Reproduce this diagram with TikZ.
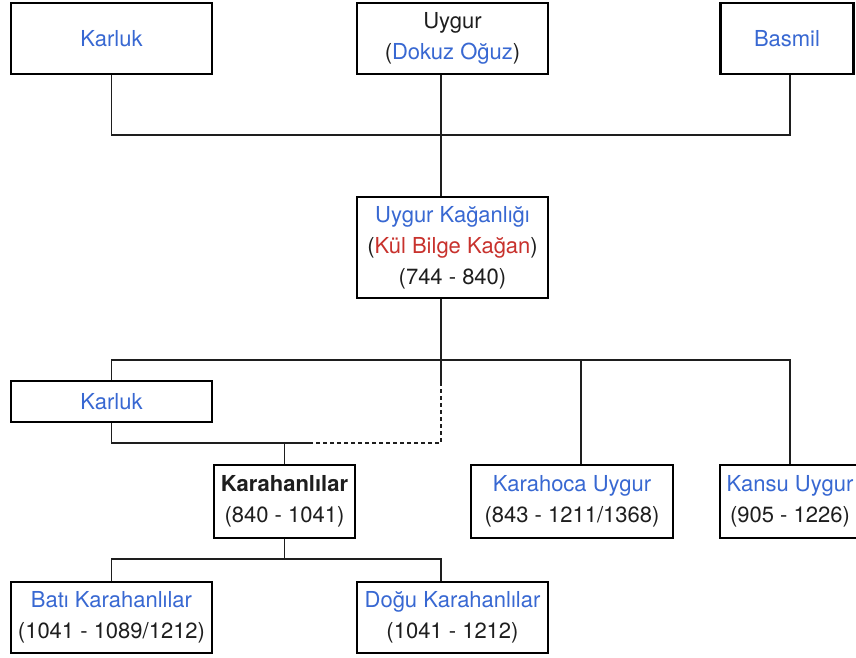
\documentclass[tikz,border=0pt]{standalone}
\usepackage{fontspec}
\setmainfont{TeX Gyre Heros}
\usepackage{xcolor}
\definecolor{linkblue}{RGB}{56,104,210}
\definecolor{namered}{RGB}{200,50,45}
\definecolor{ink}{RGB}{30,30,30}
\newcommand{\lnk}[1]{\textcolor{linkblue}{#1}}

\begin{document}
\begin{tikzpicture}[x=1pt,y=-1pt,
    tribe/.style={draw=black, line width=2.6pt, fill=white, inner sep=0pt, align=center,
      text=ink, font=\fontsize{22}{31}\selectfont},
    tie/.style={draw=ink, line width=1.2pt}]
  \useasboundingbox (0,0) rectangle (856,657);
  % top row
  \node[tribe, minimum width=201pt, minimum height=71pt] (karluk) at (111.5,38.5) {\lnk{Karluk}};
  \node[tribe, minimum width=191pt, minimum height=71pt] (uygur) at (452.5,38.5) {Uygur\\(\lnk{Dokuz Oğuz})};
  \node[tribe, minimum width=133pt, minimum height=71pt] (basmil) at (787,38.5) {\lnk{Basmil}};
  % khaganate
  \node[tribe, minimum width=191pt, minimum height=101pt] (kagan) at (452.5,247.5)
    {\lnk{Uygur Kağanlığı}\\(\textcolor{namered}{Kül Bilge Kağan})\\(744 - 840)};
  % successors
  \node[tribe, minimum width=201pt, minimum height=41pt] (karluk2) at (111.5,401.5) {\lnk{Karluk}};
  \node[tribe, minimum width=141pt, minimum height=73pt] (karahan) at (284.5,501.5) {\textbf{Karahanlılar}\\(840 - 1041)};
  \node[tribe, minimum width=202pt, minimum height=73pt] (karahoca) at (572,501.5) {\lnk{Karahoca Uygur}\\(843 - 1211/1368)};
  \node[tribe, minimum width=140pt, minimum height=73pt] (kansu) at (790,501.5) {\lnk{Kansu Uygur}\\(905 - 1226)};
  \node[tribe, minimum width=201pt, minimum height=71pt] (bati) at (111.5,617.5) {\lnk{Batı Karahanlılar}\\(1041 - 1089/1212)};
  \node[tribe, minimum width=191pt, minimum height=71pt] (dogu) at (452.5,617.5) {\lnk{Doğu Karahanlılar}\\(1041 - 1212)};

  \coordinate (topbar) at (441,135);
  \coordinate (midbar) at (441,360);
  \coordinate (dashstart) at (441,382);
  \coordinate (dashend) at (312,443);
  \coordinate (lowbar) at (284.5,443);
  \coordinate (botbar) at (284.5,559);

  \draw[tie] (karluk.south) |- (topbar) -| ([xshift=3pt]basmil.south);
  \draw[tie] ([xshift=-11.5pt]uygur.south) -- ([xshift=-11.5pt]kagan.north);
  \draw[tie] ([xshift=-11.5pt]kagan.south) -- (dashstart);
  \draw[tie] (karluk2.north) |- (midbar) -| (kansu.north);
  \draw[tie] ([xshift=9pt]karahoca.north) |- (midbar);
  \draw[tie, dash pattern=on 4pt off 3pt] (dashstart) |- (dashend);
  \draw[tie] (karluk2.south) |- (dashend);
  \draw[tie] (lowbar) -- (karahan.north);
  \draw[tie] (karahan.south) -- (botbar);
  \draw[tie] (bati.north) |- (botbar) -| ([xshift=-11.5pt]dogu.north);
\end{tikzpicture}
\end{document}
